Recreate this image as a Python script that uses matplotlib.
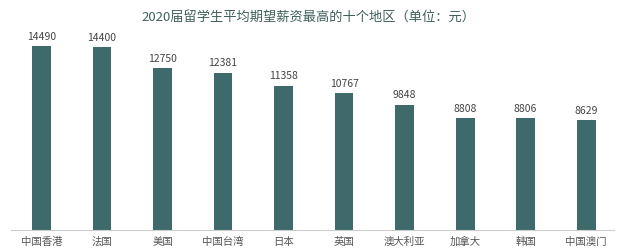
import matplotlib
matplotlib.use("Agg")
import matplotlib.pyplot as plt

plt.rcParams['font.family'] = ['Noto Sans CJK SC', 'DejaVu Sans']

title = "2020届留学生平均期望薪资最高的十个地区（单位：元）"
regions = ["中国香港", "法国", "美国", "中国台湾", "日本", "英国", "澳大利亚", "加拿大", "韩国", "中国澳门"]
salaries = [14490, 14400, 12750, 12381, 11358, 10767, 9848, 8808, 8806, 8629]

bar_color = "#3e6a6c"

fig = plt.figure(figsize=(6.18, 2.49), dpi=100)
fig.patch.set_facecolor("white")
ax = fig.add_axes([11/618, 19/249, 603/618, 200/249])

x = list(range(len(regions)))
ax.bar(x, salaries, width=0.31, color=bar_color)
for xi, v in zip(x, salaries):
    ax.text(xi, v + 350, str(v), ha="center", va="bottom", fontsize=7.5, color="#444444")

ax.set_xlim(-0.504, 9.46)
ax.set_ylim(0, 15748)
ax.set_xticks(x)
ax.set_xticklabels(regions, fontsize=7.5, color="#555555")
ax.tick_params(axis="x", length=0, pad=5)
ax.set_yticks([])
for s in ["top", "right", "left"]:
    ax.spines[s].set_visible(False)
ax.spines["bottom"].set_color("#cccccc")
ax.spines["bottom"].set_linewidth(0.8)

fig.text(308/618, 1 - 17/249, title, ha="center", va="center", fontsize=9.5, color="#3f5f5a")

fig.savefig("out.png", dpi=100, facecolor="white")
